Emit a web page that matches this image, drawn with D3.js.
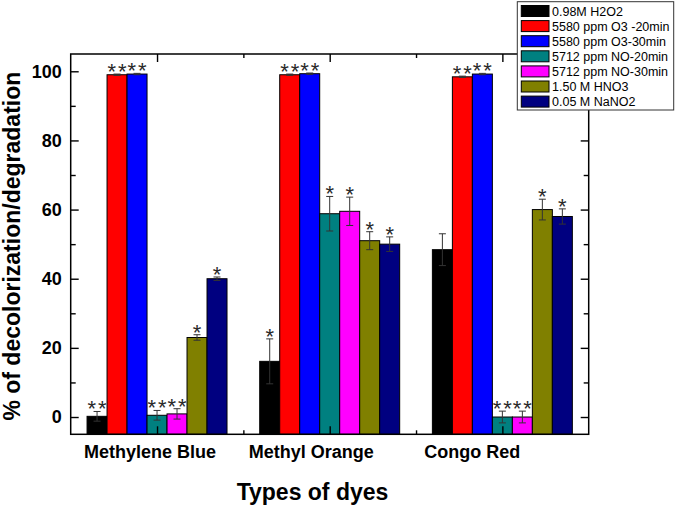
<!DOCTYPE html>
<html>
<head>
<meta charset="utf-8">
<script src="https://cdn.jsdelivr.net/npm/d3@7"></script>
<style>
  html, body { margin: 0; padding: 0; background: #fff; }
  svg { display: block; font-family: "Liberation Sans", Arial, sans-serif; }
</style>
</head>
<body>
<svg id="chart" width="675" height="505"></svg>
<script>
// ---------- data ----------
const categories = ["Methylene Blue", "Methyl Orange", "Congo Red"];
const seriesNames = ["0.98M H2O2", "5580 ppm O3 -20min", "5580 ppm O3-30min",
  "5712 ppm NO-20min", "5712 ppm NO-30min", "1.50 M HNO3", "0.05 M NaNO2"];
const seriesColors = ["#000000", "#FF0000", "#0000FF", "#008080", "#FF00FF", "#808000", "#000080"];
const valH2O2   = [0.2, 16.1, 48.4];
const valO3_20  = [99.0, 99.0, 98.4];
const valO3_30  = [99.2, 99.3, 99.2];
const valNO_20  = [0.5, 58.8, 0.0];
const valNO_30  = [0.9, 59.5, 0.0];
const valHNO3   = [23.0, 51.0, 60.0];
const valNaNO2  = [40.0, 50.0, 58.0];
const errH2O2   = [1.4, 6.5, 4.6];
const errO3_20  = [0.2, 0.2, 0.2];
const errO3_30  = [0.2, 0.2, 0.2];
const errNO_20  = [1.4, 5.0, 1.7];
const errNO_30  = [1.5, 4.1, 1.7];
const errHNO3   = [0.8, 2.6, 3.0];
const errNaNO2  = [0.5, 2.1, 2.2];
const sigH2O2   = ["**", "*", ""];
const sigO3_20  = ["**", "**", "**"];
const sigO3_30  = ["**", "**", "**"];
const sigNO_20  = ["**", "*", "**"];
const sigNO_30  = ["**", "*", "**"];
const sigHNO3   = ["*", "*", "*"];
const sigNaNO2  = ["*", "*", "*"];
const yMajorTicks = [0, 20, 40, 60, 80, 100];
const yMinorTicks = [10, 30, 50, 70, 90];
const yTitle = "% of decolorization/degradation";
const xTitle = "Types of dyes";

const values = [valH2O2, valO3_20, valO3_30, valNO_20, valNO_30, valHNO3, valNaNO2];
const errors = [errH2O2, errO3_20, errO3_30, errNO_20, errNO_30, errHNO3, errNaNO2];
const sigs   = [sigH2O2, sigO3_20, sigO3_30, sigNO_20, sigNO_30, sigHNO3, sigNaNO2];

// ---------- layout ----------
const pL = 70.7, pR = 588.7, pT = 54, pB = 434.3;
const svg = d3.select("#chart");

const x = d3.scaleLinear().domain([0.5, 3.5]).range([pL, pR]);
const y = d3.scaleLinear().domain([-5, 105]).range([pB, pT]);
const barW = 0.1158; // in category units
const nS = seriesNames.length;

const records = [];
values.forEach((arr, s) => arr.forEach((v, c) => {
  records.push({ s, c, v, e: errors[s][c], sig: sigs[s][c] });
}));
const cx = d => x(d.c + 1 + (d.s - (nS - 1) / 2) * barW);
const bw = x(1 + barW) - x(1);

const plot = svg.append("g");

// bars (drawn from the axis bottom)
plot.selectAll("rect.bar").data(records).join("rect")
  .attr("class", "bar")
  .attr("x", d => cx(d) - bw / 2)
  .attr("width", bw)
  .attr("y", d => y(d.v))
  .attr("height", d => y(-5) - y(d.v))
  .attr("fill", d => seriesColors[d.s])
  .attr("stroke", "#000")
  .attr("stroke-width", 1);

// error bars
const eb = plot.selectAll("g.err").data(records).join("g").attr("class", "err")
  .attr("stroke", "#333").attr("stroke-width", 1);
eb.append("line")
  .attr("x1", d => cx(d)).attr("x2", d => cx(d))
  .attr("y1", d => y(d.v + d.e)).attr("y2", d => y(d.v - d.e));
eb.append("line")
  .attr("x1", d => cx(d) - 3.5).attr("x2", d => cx(d) + 3.5)
  .attr("y1", d => y(d.v + d.e)).attr("y2", d => y(d.v + d.e));
eb.append("line")
  .attr("x1", d => cx(d) - 3.5).attr("x2", d => cx(d) + 3.5)
  .attr("y1", d => y(d.v - d.e)).attr("y2", d => y(d.v - d.e));

// significance asterisks
plot.selectAll("text.sig").data(records.filter(d => d.sig)).join("text")
  .attr("class", "sig")
  .attr("x", d => cx(d) + 1)
  .attr("y", d => y(d.v + d.e) + 5)
  .attr("text-anchor", "middle")
  .attr("font-size", 22)
  .attr("letter-spacing", 2)
  .attr("fill", "#2a2a2a")
  .text(d => d.sig);

// ---------- axes (inward ticks) ----------
function styleAxis(g) {
  g.select(".domain").remove();
  g.selectAll(".tick line").attr("stroke", "#000").attr("stroke-width", 1.4);
}
const yl = svg.append("g").attr("transform", `translate(${pL},0)`)
  .call(d3.axisLeft(y).tickValues(yMajorTicks).tickSize(-8).tickPadding(9))
  .call(styleAxis);
yl.selectAll(".tick text").attr("font-size", 18).attr("font-weight", "bold")
  .attr("fill", "#000").attr("font-family", "Liberation Sans, Arial, sans-serif");
svg.append("g").attr("transform", `translate(${pL},0)`)
  .call(d3.axisLeft(y).tickValues(yMinorTicks).tickSize(-5).tickFormat(""))
  .call(styleAxis);
svg.append("g").attr("transform", `translate(${pR},0)`)
  .call(d3.axisRight(y).tickValues(yMajorTicks).tickSize(-8).tickFormat(""))
  .call(styleAxis);
svg.append("g").attr("transform", `translate(${pR},0)`)
  .call(d3.axisRight(y).tickValues(yMinorTicks).tickSize(-5).tickFormat(""))
  .call(styleAxis);
svg.append("g").attr("transform", `translate(0,${pB})`)
  .call(d3.axisBottom(x).tickValues([1, 2, 3]).tickSize(-8).tickFormat(""))
  .call(styleAxis);
svg.append("g").attr("transform", `translate(0,${pB})`)
  .call(d3.axisBottom(x).tickValues([1.5, 2.5]).tickSize(-4).tickFormat(""))
  .call(styleAxis);
svg.append("g").attr("transform", `translate(0,${pT})`)
  .call(d3.axisTop(x).tickValues([1, 2, 3]).tickSize(-8).tickFormat(""))
  .call(styleAxis);
svg.append("g").attr("transform", `translate(0,${pT})`)
  .call(d3.axisTop(x).tickValues([1.5, 2.5]).tickSize(-4).tickFormat(""))
  .call(styleAxis);

// frame
svg.append("rect")
  .attr("x", pL).attr("y", pT)
  .attr("width", pR - pL).attr("height", pB - pT)
  .attr("fill", "none").attr("stroke", "#000").attr("stroke-width", 1.5);

// category labels
const labelX = d3.scaleLinear().domain([1, 3]).range([x(1) - 7, x(3) - 30]);
svg.selectAll("text.cat").data(categories).join("text")
  .attr("class", "cat")
  .attr("x", (d, i) => labelX(i + 1))
  .attr("y", 457.5)
  .attr("text-anchor", "middle")
  .attr("font-size", 18).attr("font-weight", "bold")
  .text(d => d);

// axis titles
svg.append("text")
  .attr("x", 312.5).attr("y", 500)
  .attr("text-anchor", "middle")
  .attr("font-size", 23).attr("font-weight", "bold")
  .text(xTitle);
svg.append("text")
  .attr("transform", `translate(20,${(pT + pB) / 2 + 2}) rotate(-90)`)
  .attr("text-anchor", "middle")
  .attr("font-size", 23).attr("font-weight", "bold")
  .text(yTitle);

// ---------- legend ----------
const lg = svg.append("g");
lg.append("rect")
  .attr("x", 517.3).attr("y", 1.7).attr("width", 156.4).attr("height", 108.3)
  .attr("fill", "#fff").attr("stroke", "#333").attr("stroke-width", 1);
const rows = lg.selectAll("g.row").data(seriesNames).join("g")
  .attr("class", "row")
  .attr("transform", (d, i) => `translate(0,${11 + i * 15.1})`);
rows.append("rect")
  .attr("x", 521.3).attr("y", -5.5).attr("width", 27.7).attr("height", 11)
  .attr("fill", (d, i) => seriesColors[i])
  .attr("stroke", "#000").attr("stroke-width", 1);
rows.append("text")
  .attr("x", 552).attr("y", 4.6)
  .attr("font-size", 12.5)
  .attr("fill", "#000")
  .text(d => d);
</script>
</body>
</html>
